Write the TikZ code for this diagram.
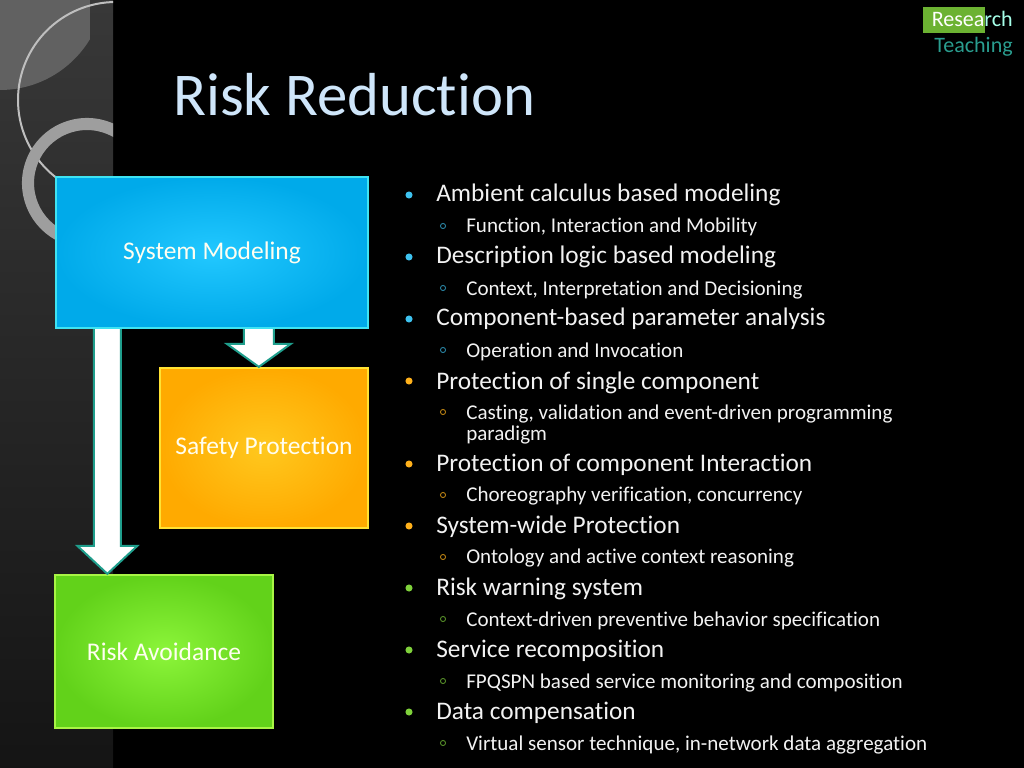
\documentclass[tikz,border=0pt]{standalone}
\usepackage{fontspec}
\setmainfont{Carlito}[RawFeature=-liga]
\usetikzlibrary{calc}

\definecolor{titleblue}{HTML}{CFE6FA}
\definecolor{bulcyan}{HTML}{3EC3F0}
\definecolor{bulorange}{HTML}{FFB11B}
\definecolor{bulgreen}{HTML}{7FD13B}
\definecolor{arrowteal}{HTML}{1F9E8C}
\definecolor{tagteal}{HTML}{2A9D8F}
\definecolor{smin}{HTML}{22C8FF}
\definecolor{smout}{HTML}{00AAEA}
\definecolor{smline}{HTML}{3FE3F2}
\definecolor{spin}{HTML}{FFC81E}
\definecolor{spout}{HTML}{FFAA00}
\definecolor{spline}{HTML}{FFE233}
\definecolor{rain}{HTML}{8CF53A}
\definecolor{raout}{HTML}{62D21A}
\definecolor{raline}{HTML}{A8F545}

\tikzset{
  box/.style={rectangle,line width=1.6pt,text=white!94!yellow,font=\fontsize{17.9}{20}\selectfont},
  itemtext/.style={anchor=base west,inner sep=0pt,text=white!95!black,font=\fontsize{17.8}{20}\selectfont},
  subtext/.style={anchor=base west,inner sep=0pt,text=white!95!black,font=\fontsize{14.8}{15}\selectfont},
  blockarrow/.style={fill=white,draw=arrowteal,line width=1.4pt,line join=miter}
}

\newcommand{\blockarr}[5]{%
  \draw[blockarrow] ($(#1)+(-#3,0)$) -- ($(#2)+(-#3,-#5)$) -- ($(#2)+(-#4,-#5)$)
    -- (#2) -- ($(#2)+(#4,-#5)$) -- ($(#2)+(#3,-#5)$) -- ($(#1)+(#3,0)$);}

\begin{document}
\begin{tikzpicture}[x=0.703125pt,y=-0.703125pt]

      \useasboundingbox (0,0) rectangle (1024,768);
      \fill[black] (0,0) rectangle (1024,768);

      \begin{scope}
        \clip (0,0) rectangle (113,768);
        \shade[top color=black!78,bottom color=black!92] (0,0) rectangle (113,768);
        \begin{scope}
          \clip (0,-15) circle[radius=105];
          \fill[black!62] (0,0) rectangle (90,100);
        \end{scope}
        \draw[black!25,line width=1.4pt] (116,100) circle[radius=98];
        \draw[black!38,line width=8.5pt] (87,183) circle[radius=59];
      \end{scope}

      \node[anchor=base west,inner sep=0pt,text=titleblue,font=\fontsize{42.7}{44}\selectfont] (title) at (173,116) {Risk Reduction};

      \fill[bulgreen!85!black] (923,7) rectangle (985,33);
      \node[anchor=base east,inner sep=0pt,font=\fontsize{15.5}{17}\selectfont] (research) at (1013,27) {\textcolor{white}{Resea}\textcolor{green!25!cyan!35!white}{rch}};
      \node[anchor=base east,inner sep=0pt,text=tagteal,font=\fontsize{15.5}{17}\selectfont] (teaching) at (1013,53) {Teaching};

      \begin{scope}[every node/.style={box}]
        \node[draw=smline,inner color=smin,outer color=smout,
              minimum width=219.4pt,minimum height=106.2pt] (sm) at (212,252.5) {System Modeling};
        \node[draw=spline,inner color=spin,outer color=spout,
              minimum width=146.25pt,minimum height=112.5pt] (sp) at (264,448) {Safety Protection};
        \node[draw=raline,inner color=rain,outer color=raout,
              minimum width=153.3pt,minimum height=107.6pt] (ra) at (164,651.5) {Risk Avoidance};
      \end{scope}

      \path (sm.south west) ++(52.5,0) coordinate (a1s);
      \coordinate (a1t) at (a1s |- ra.north);
      \path (sm.south west) ++(204,0) coordinate (a2s);
      \coordinate (a2t) at (a2s |- sp.north);

      \blockarr{a1s}{a1t}{13.5}{30}{28}
      \blockarr{a2s}{a2t}{15}{32}{23}

      \begin{scope}[every node/.style={circle,inner sep=0pt,minimum size=5pt}]
        \node[fill=bulcyan]   (d1) at (409,195) {};
        \node[fill=bulcyan]   (d2) at (409,257) {};
        \node[fill=bulcyan]   (d3) at (409,319) {};
        \node[fill=bulorange] (d4) at (409,381) {};
        \node[fill=bulorange] (d5) at (409,464) {};
        \node[fill=bulorange] (d6) at (409,526) {};
        \node[fill=bulgreen]  (d7) at (409,588) {};
        \node[fill=bulgreen]  (d8) at (409,650) {};
        \node[fill=bulgreen]  (d9) at (409,712) {};
      \end{scope}

      \begin{scope}[every node/.style={circle,inner sep=0pt,minimum size=3.6pt,line width=0.6pt}]
        \node[draw=bulcyan!70!black]   (r1)  at (443,226) {};
        \node[draw=bulcyan!70!black]   (r2)  at (443,288) {};
        \node[draw=bulcyan!70!black]   (r3)  at (443,350) {};
        \node[draw=bulorange!75!black] (r4)  at (443,412) {};
        \node[draw=bulorange!75!black] (r5)  at (443,495) {};
        \node[draw=bulorange!75!black] (r6)  at (443,557) {};
        \node[draw=bulgreen!70!black]  (r7)  at (443,619) {};
        \node[draw=bulgreen!70!black]  (r8)  at (443,681) {};
        \node[draw=bulgreen!70!black]  (r9)  at (443,743) {};
      \end{scope}

      \begin{scope}[every node/.style={itemtext}]
        \node (t1) at (436,202) {Ambient calculus based modeling};
        \node (t2) at (436,264) {Description logic based modeling};
        \node (t3) at (436,326) {Component-based parameter analysis};
        \node (t4) at (436,389) {Protection of single component};
        \node (t5) at (436,471) {Protection of component Interaction};
        \node (t6) at (436,533) {System-wide Protection};
        \node (t7) at (436,595) {Risk warning system};
        \node (t8) at (436,657) {Service recomposition};
        \node (t9) at (436,719) {Data compensation};
      \end{scope}

      \begin{scope}[every node/.style={subtext}]
        \node (s1)  at (466,233) {Function, Interaction and Mobility};
        \node (s2)  at (466,295) {Context, Interpretation and Decisioning};
        \node (s3)  at (466,357) {Operation and Invocation};
        \node (s4)  at (466,419) {Casting, validation and event-driven programming};
        \node (s4b) at (466,440) {paradigm};
        \node (s5)  at (466,501) {Choreography verification, concurrency};
        \node (s6)  at (466,563) {Ontology and active context reasoning};
        \node (s7)  at (466,626) {Context-driven preventive behavior specification};
        \node (s8)  at (466,688) {FPQSPN based service monitoring and composition};
        \node (s9)  at (466,750) {Virtual sensor technique, in-network data aggregation};
      \end{scope}

    \end{tikzpicture}
\end{document}
